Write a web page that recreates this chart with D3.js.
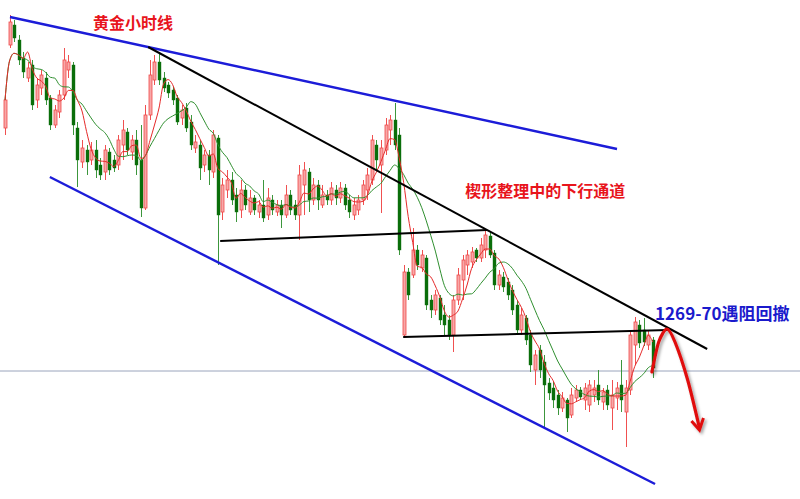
<!DOCTYPE html>
<html><head><meta charset="utf-8">
<script src="https://cdn.jsdelivr.net/npm/d3@7/dist/d3.min.js"></script>
<style>html,body{margin:0;padding:0;background:#fff;}svg{display:block;}</style>
</head><body>
<script>
// Gold hourly candles [open, high, low, close]
const candles = [
[1290.2,1293.5,1289.5,1293.0],[1298.5,1301.5,1298.2,1300.8],[1300.5,1301.0,1298.8,1299.2],[1299.0,1299.5,1296.5,1297.0],
[1297.2,1297.8,1295.2,1295.8],[1295.2,1296.8,1294.8,1296.2],[1296.5,1297.0,1292.0,1292.5],[1293.0,1295.2,1292.2,1294.5],
[1294.2,1296.0,1293.5,1295.5],[1295.2,1295.8,1292.5,1293.0],[1293.2,1293.5,1290.0,1290.5],[1290.5,1292.5,1290.2,1292.0],
[1291.8,1294.0,1291.2,1293.5],[1293.5,1298.2,1293.0,1297.0],[1296.0,1297.5,1295.2,1296.8],[1296.5,1296.8,1289.5,1290.5],
[1290.2,1290.8,1284.3,1287.0],[1286.8,1289.0,1286.2,1288.2],[1288.0,1288.5,1285.5,1286.8],[1287.0,1288.8,1286.5,1288.0],
[1288.0,1289.0,1285.2,1286.0],[1286.5,1287.2,1285.0,1285.5],[1285.8,1288.5,1285.0,1288.0],[1287.8,1288.2,1285.5,1286.0],
[1287.0,1287.5,1285.8,1286.2],[1286.5,1289.5,1286.0,1289.0],[1288.5,1291.0,1287.0,1290.0],[1289.8,1290.2,1287.5,1288.0],
[1287.8,1289.5,1287.0,1289.0],[1289.0,1290.0,1285.5,1286.5],[1287.0,1290.5,1281.3,1282.2],[1282.2,1292.5,1282.0,1291.5],
[1291.5,1297.0,1291.0,1295.5],[1295.0,1297.5,1294.5,1296.8],[1296.8,1297.8,1294.5,1295.0],[1295.2,1295.8,1293.8,1294.2],
[1294.5,1294.8,1293.2,1293.7],[1294.0,1294.3,1292.5,1293.0],[1293.2,1293.5,1290.5,1290.8],[1291.2,1292.5,1290.5,1292.0],
[1292.2,1292.7,1289.8,1290.2],[1290.8,1291.5,1288.0,1288.5],[1288.2,1289.5,1287.7,1288.8],[1288.5,1289.0,1285.0,1286.2],
[1286.5,1288.0,1285.8,1287.5],[1287.5,1288.0,1284.5,1286.0],[1285.8,1290.0,1285.2,1289.5],[1289.2,1289.5,1276.5,1281.5],
[1281.8,1285.2,1281.0,1284.5],[1284.0,1286.0,1283.2,1285.0],[1285.0,1285.8,1282.5,1283.0],[1283.5,1284.2,1280.8,1281.8],
[1282.0,1285.0,1281.2,1284.0],[1284.0,1284.5,1282.0,1282.5],[1281.8,1284.0,1281.5,1283.2],[1283.2,1283.5,1281.5,1282.0],
[1281.8,1283.0,1281.2,1282.5],[1282.5,1285.0,1280.8,1281.2],[1281.5,1284.2,1281.0,1283.2],[1283.0,1283.5,1281.5,1282.0],
[1281.8,1283.0,1281.4,1282.5],[1282.5,1283.0,1280.2,1281.5],[1281.5,1284.5,1281.2,1283.5],[1283.5,1284.0,1281.5,1282.0],
[1282.5,1283.0,1281.0,1281.5],[1281.5,1286.5,1279.0,1285.5],[1284.5,1286.8,1281.5,1286.0],[1285.8,1286.2,1281.8,1283.0],
[1283.0,1285.2,1282.5,1284.5],[1284.5,1285.0,1282.0,1283.0],[1282.5,1284.5,1282.2,1283.5],[1283.5,1284.0,1282.5,1283.0],
[1283.0,1284.8,1282.5,1284.2],[1284.0,1284.5,1282.5,1283.2],[1283.2,1284.8,1282.7,1284.2],[1284.2,1284.6,1282.0,1282.5],
[1283.0,1283.5,1281.2,1281.8],[1281.5,1283.2,1281.0,1282.5],[1282.0,1283.5,1281.5,1283.0],[1283.0,1285.0,1282.5,1284.5],
[1284.0,1286.2,1283.0,1285.5],[1285.0,1289.5,1284.5,1289.0],[1288.5,1289.0,1286.0,1287.0],[1286.5,1289.0,1281.7,1288.2],
[1288.0,1291.2,1287.5,1290.5],[1290.0,1291.5,1288.5,1291.0],[1291.0,1292.7,1288.0,1288.5],[1289.5,1290.2,1277.5,1278.0],
[1269.5,1276.5,1269.2,1275.8],[1275.8,1276.2,1273.0,1273.5],[1275.5,1280.2,1275.2,1278.0],[1278.0,1278.5,1276.0,1276.5],
[1276.2,1278.0,1275.8,1277.5],[1277.2,1277.5,1272.0,1272.5],[1273.0,1273.5,1271.2,1272.0],[1272.0,1274.0,1271.5,1273.5],
[1273.2,1273.5,1270.5,1271.0],[1271.5,1272.5,1269.5,1270.5],[1271.0,1271.5,1269.0,1269.5],[1269.5,1273.5,1267.8,1273.0],
[1273.0,1276.2,1272.5,1275.5],[1275.0,1277.5,1273.0,1277.0],[1276.5,1278.0,1275.5,1277.5],[1276.8,1278.3,1276.2,1277.8],
[1278.0,1278.2,1276.8,1277.2],[1277.2,1279.2,1276.8,1278.5],[1278.0,1280.0,1277.2,1279.5],[1279.4,1279.8,1277.2,1277.5],
[1277.7,1278.0,1274.0,1274.5],[1274.5,1276.0,1274.0,1275.5],[1275.3,1275.8,1273.8,1274.3],[1274.8,1275.2,1273.0,1273.5],
[1274.0,1274.5,1271.5,1272.0],[1272.5,1273.0,1269.5,1270.0],[1270.0,1272.2,1269.5,1271.5],[1271.2,1271.5,1268.5,1269.0],
[1269.5,1270.0,1265.8,1266.5],[1266.0,1268.0,1264.5,1267.5],[1268.0,1268.5,1265.2,1266.0],[1266.8,1267.5,1260.2,1264.5],
[1264.7,1265.2,1263.0,1263.7],[1264.2,1264.8,1262.2,1263.0],[1263.5,1264.0,1261.5,1262.2],[1262.2,1263.8,1261.8,1263.2],
[1263.0,1263.2,1259.8,1261.2],[1261.5,1264.2,1261.2,1263.5],[1263.2,1264.5,1262.8,1264.0],[1264.0,1264.3,1263.0,1263.3],
[1263.0,1264.7,1262.0,1264.2],[1262.5,1265.0,1261.8,1264.5],[1263.5,1265.0,1262.8,1264.2],[1264.5,1266.0,1262.5,1263.0],
[1262.8,1264.2,1262.0,1263.8],[1264.0,1264.5,1262.0,1262.5],[1262.2,1265.0,1260.0,1263.5],[1263.2,1264.8,1262.0,1264.2],
[1264.5,1267.0,1261.8,1263.0],[1261.8,1265.0,1258.3,1264.2],[1264.0,1270.0,1263.5,1269.5],[1268.5,1271.3,1266.5,1270.8],
[1270.5,1271.0,1268.2,1268.7],[1270.0,1271.2,1268.4,1268.8],[1268.5,1270.0,1268.0,1269.5],[1269.0,1269.3,1265.2,1266.2]
];
const fastPeriod = 5, slowPeriod = 11;
// Trend lines as [candle index, price] endpoints
const channelTop = [[1.1, 1301.3], [135.1, 1288.1]];
const channelBottom = [[9.9, 1285.3], [143.5, 1254.6]];
const wedgeTop = [[31.6, 1298.3], [155.0, 1268.1]];
const supportA = [[47.5, 1278.9], [106.4, 1280.0]];
const supportB = [[87.9, 1269.3], [146.4, 1270.0]];
const currentPrice = 1265.9;
const forecastPath = [[142.8, 1265.8], [144.3, 1268.8], [146.1, 1270.1], [147.9, 1268.8], [150.7, 1265.0], [153.3, 1260.2]];
const labels = [
  {text: "黄金小时线", idx: 19.4, price: 1300.8, color: "#e8141c", size: 16},
  {text: "楔形整理中的下行通道", idx: 101.6, price: 1284.0, color: "#e8141c", size: 16},
  {text: "1269-70遇阻回撤", idx: 143.5, price: 1271.8, color: "#1a1acc", size: 17}
];

const W = 800, H = 499;
const svg = d3.select("body").append("svg").attr("width", W).attr("height", H);
const x = d3.scaleLinear().domain([0, 143]).range([5, 652.8]);
const y = d3.scaleLinear().domain([1253.1, 1303]).range([H, 0]);

// current price line
svg.append("line").attr("x1", 0).attr("x2", W).attr("y1", y(currentPrice)).attr("y2", y(currentPrice))
  .attr("stroke", "#9aa4bc").attr("stroke-width", 1);

// candles
const g = svg.append("g");
const bw = 3;
candles.forEach((c, i) => {
  const [o, h, l, cl] = c;
  const up = cl >= o;
  const cx = Math.round(x(i)) + 0.5;
  g.append("line").attr("x1", cx).attr("x2", cx).attr("y1", y(h)).attr("y2", y(l))
    .attr("stroke", up ? "#f05050" : "#3c963c").attr("stroke-width", 1);
  const top = y(Math.max(o, cl)), bot = y(Math.min(o, cl));
  g.append("rect").attr("x", cx - bw / 2).attr("y", top).attr("width", bw).attr("height", Math.max(1, bot - top))
    .attr("fill", up ? "#f7a8a8" : "#0a6e0a").attr("stroke", up ? "#f04848" : "#0a6e0a").attr("stroke-width", up ? 0.8 : 0.4);
});

// moving averages
function sma(n) {
  return candles.map((c, i) => {
    const s = candles.slice(Math.max(0, i - n + 1), i + 1);
    return [i, d3.mean(s, d => d[3])];
  });
}
const lineGen = d3.line().x(d => x(d[0])).y(d => y(d[1])).curve(d3.curveMonotoneX);
svg.append("path").attr("d", lineGen(sma(slowPeriod))).attr("fill", "none").attr("stroke", "#2f8f2f").attr("stroke-width", 1);
svg.append("path").attr("d", lineGen(sma(fastPeriod))).attr("fill", "none").attr("stroke", "#e52a2a").attr("stroke-width", 1);

// trend lines
const straight = d3.line().x(d => x(d[0])).y(d => y(d[1]));
[[channelTop, "#1c1cd8", 2.4], [channelBottom, "#1c1cd8", 2.4], [wedgeTop, "#000", 2], [supportA, "#000", 2], [supportB, "#000", 2]]
  .forEach(([pts, col, w]) => {
    svg.append("path").attr("d", straight(pts)).attr("stroke", col).attr("stroke-width", w).attr("fill", "none");
  });

// forecast arrow
const defs = svg.append("defs");
const f = defs.append("filter").attr("id", "sh").attr("x", "-20%").attr("y", "-20%").attr("width", "160%").attr("height", "160%");
f.append("feDropShadow").attr("dx", 2).attr("dy", 2).attr("stdDeviation", 1.5).attr("flood-color", "#000").attr("flood-opacity", 0.35);
const curve = d3.line().x(d => x(d[0])).y(d => y(d[1])).curve(d3.curveCardinal.tension(0.2));
const ag = svg.append("g").attr("filter", "url(#sh)");
ag.append("path").attr("d", curve(forecastPath)).attr("fill", "none").attr("stroke", "#e01010").attr("stroke-width", 3.2).attr("stroke-linecap", "round");
const tip = forecastPath[forecastPath.length - 1];
const tx = x(tip[0]), ty = y(tip[1]);
ag.append("path").attr("d", `M${tx - 8},${ty - 7} L${tx},${ty + 2} L${tx + 4},${ty - 10}`)
  .attr("fill", "none").attr("stroke", "#e01010").attr("stroke-width", 3).attr("stroke-linejoin", "miter");

// labels
labels.forEach(d => {
  svg.append("text").attr("x", x(d.idx)).attr("y", y(d.price)).attr("dominant-baseline", "central")
    .attr("font-family", "'Noto Sans CJK SC', 'Noto Sans', sans-serif").attr("font-weight", "bold").attr("font-size", d.size)
    .attr("fill", d.color).text(d.text);
});
</script>
</body></html>
